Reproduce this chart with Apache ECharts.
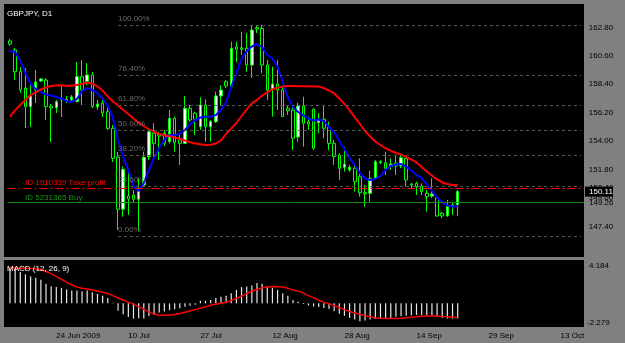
<!DOCTYPE html>
<html><head><meta charset="utf-8">
<script src="https://cdn.jsdelivr.net/npm/echarts@6/dist/echarts.min.js"></script>
<style>html,body{margin:0;padding:0;background:#808080;}#c{width:625px;height:343px;}</style>
</head><body><div id="c"></div>
<script>
const symbolTitle = 'GBPJPY, D1';
const macdTitle = 'MACD (12, 26, 9)';
const slotCount = 112;
// [open, close, low, high]
const candles = [
[161.74,161.51,161.36,161.90],[161.05,159.37,158.73,161.20],[159.37,157.96,157.73,159.73],[158.11,156.67,155.02,159.66],
[156.67,157.50,155.10,158.34],[157.96,158.58,156.95,159.50],[158.65,158.81,158.58,158.88],[158.73,156.67,155.64,158.88],
[156.72,156.57,153.94,156.88],[156.59,157.06,156.18,157.19],[157.34,157.19,155.87,158.34],[157.11,157.26,156.95,157.50],
[157.19,157.42,157.03,157.57],[157.06,158.99,157.03,160.12],[158.99,157.96,156.80,160.27],[158.60,159.12,158.34,160.04],
[159.12,156.67,156.57,159.35],[156.65,156.88,156.41,157.19],[156.95,156.18,155.87,157.19],[156.28,155.00,154.87,156.80],
[155.00,152.68,152.40,155.26],[152.78,148.75,147.15,153.17],[148.75,151.83,148.17,152.04],[149.77,149.54,148.31,151.78],
[149.85,149.52,149.23,150.24],[149.52,150.37,147.02,151.14],[150.62,152.76,150.49,153.19],[152.81,154.74,152.55,155.02],
[154.62,153.84,152.55,155.39],[154.56,154.41,152.55,154.74],[154.62,153.84,153.63,154.87],[153.97,155.77,153.84,156.41],
[155.77,153.89,153.19,155.90],[154.10,153.84,152.17,154.48],[153.84,156.54,153.79,157.50],[156.54,155.64,155.51,156.80],
[156.16,155.70,154.48,156.28],[155.12,156.80,154.87,157.39],[156.80,155.12,153.97,157.24],[155.12,155.51,153.97,155.64],
[155.51,157.50,155.41,157.83],[157.50,157.96,156.80,158.34],[158.60,158.27,158.11,158.73],[158.21,161.18,158.11,161.69],
[161.30,161.10,160.12,161.69],[161.22,161.10,160.66,162.46],[161.18,159.89,159.37,162.36],[159.89,162.59,158.88,162.98],
[162.77,162.67,162.36,162.98],[162.72,159.89,159.25,162.98],[159.89,157.96,157.19,160.27],[158.01,158.42,155.90,159.76],
[158.42,157.96,156.41,160.27],[157.96,155.90,155.90,158.21],[156.54,156.36,156.03,156.80],[156.41,154.23,153.32,156.67],
[154.33,156.72,153.97,156.98],[156.72,155.39,153.58,157.44],[155.51,155.33,154.87,155.90],[156.47,153.46,153.32,156.54],
[155.43,155.64,154.62,156.16],[155.70,155.00,154.23,156.72],[155.08,153.84,153.32,155.51],[153.84,152.81,152.17,154.10],
[152.94,151.91,151.01,153.07],[151.99,152.24,151.65,153.58],[151.78,151.99,151.63,152.17],[151.91,150.88,150.11,152.17],
[151.26,150.03,149.72,152.68],[150.03,149.93,148.95,150.62],[149.98,151.14,149.33,151.73],[151.14,152.42,151.01,152.55],
[152.42,152.34,152.24,152.55],[152.34,151.91,151.39,153.19],[152.04,152.24,151.78,152.68],[152.30,152.09,151.39,152.94],
[152.09,152.73,151.93,152.94],[152.68,151.01,150.49,152.81],[150.70,150.62,150.39,150.78],[150.75,150.49,149.85,150.88],
[150.55,150.11,149.85,150.75],[149.98,149.72,148.56,150.24],[149.77,149.93,149.60,151.14],[149.60,148.23,148.17,149.72],
[148.44,148.23,148.05,148.56],[148.23,149.00,148.17,149.46],[149.08,148.95,148.31,149.33],[149.08,150.11,148.23,150.24]
];
const maFast = [160.97,160.89,160.20,159.27,158.42,158.04,157.80,157.61,157.53,157.42,
157.30,157.11,157.03,157.26,157.88,158.09,157.96,157.70,157.30,156.72,
155.80,154.10,152.78,151.78,150.55,150.16,150.78,151.78,152.71,153.48,
154.10,154.48,154.48,154.56,154.87,155.33,155.64,155.83,155.90,155.90,
156.03,156.41,157.03,158.19,159.27,160.35,160.97,161.32,161.49,161.28,
160.66,160.39,159.73,158.58,157.38,156.65,156.26,155.99,155.76,155.60,
155.68,155.56,155.10,154.72,154.02,153.40,152.71,152.17,151.55,151.12,
151.01,151.09,151.32,151.78,152.09,152.21,152.24,152.04,151.74,151.39,
151.16,150.66,150.16,149.66,149.27,149.04,148.95,149.00];
const maSlow = [155.91,156.38,156.80,157.19,157.57,157.77,158.00,158.15,158.27,158.31,
158.32,158.29,158.29,158.34,158.44,158.54,158.46,158.23,157.92,157.46,
157.07,156.76,156.41,156.11,155.76,155.41,155.18,154.91,154.72,154.56,
154.46,154.38,154.29,154.19,154.06,153.92,153.83,153.77,153.71,153.73,
153.83,154.06,154.56,154.99,155.41,155.95,156.45,156.92,157.19,157.53,
157.77,158.00,158.14,158.23,158.27,158.27,158.25,158.25,158.24,158.23,
158.22,158.11,157.92,157.69,157.30,156.88,156.38,155.87,155.33,154.79,
154.37,153.98,153.71,153.46,153.27,153.09,152.98,152.78,152.59,152.36,
152.01,151.67,151.36,151.05,150.82,150.70,150.62,150.62];
const macdMain = [3.36,3.36,3.03,2.80,2.60,2.48,2.28,1.89,1.66,1.57,
1.47,1.33,1.23,1.23,1.17,1.23,1.08,0.91,0.74,0.52,
0.05,-0.72,-1.05,-1.31,-1.47,-1.44,-1.47,-1.21,-1.05,-0.88,
-0.78,-0.66,-0.56,-0.46,-0.33,-0.23,-0.13,0.26,0.26,0.33,
0.52,0.65,0.74,0.98,1.30,1.57,1.63,1.72,1.96,1.89,
1.63,1.50,1.30,0.98,0.74,0.33,0.15,-0.05,-0.20,-0.30,
-0.35,-0.45,-0.55,-0.75,-1.00,-1.20,-1.40,-1.55,-1.72,-1.65,
-1.55,-1.50,-1.48,-1.46,-1.40,-1.30,-1.25,-1.20,-1.15,-1.12,
-1.12,-1.15,-1.20,-1.30,-1.40,-1.45,-1.48,-1.45];
const macdSignal = [3.45,3.42,3.40,3.38,3.36,3.32,3.26,3.08,2.87,2.60,
2.32,2.05,1.80,1.57,1.45,1.38,1.30,1.20,1.08,0.95,
0.75,0.52,0.32,0.12,-0.07,-0.32,-0.56,-0.82,-1.05,-1.12,
-1.15,-1.14,-1.08,-0.98,-0.85,-0.72,-0.60,-0.46,-0.33,-0.18,
-0.07,0.02,0.10,0.27,0.50,0.70,0.95,1.17,1.33,1.50,
1.58,1.63,1.61,1.57,1.45,1.30,1.18,1.02,0.75,0.55,
0.30,0.12,-0.05,-0.22,-0.40,-0.60,-0.78,-0.92,-1.05,-1.18,
-1.30,-1.40,-1.44,-1.45,-1.45,-1.45,-1.44,-1.38,-1.33,-1.30,
-1.25,-1.21,-1.21,-1.22,-1.27,-1.30,-1.33,-1.36];
const dateTicks = [9,23,37,51,65,79,93,107];
const dateLabels = ['24 Jun 2009','10 Jul','27 Jul','12 Aug','28 Aug','14 Sep','29 Sep','13 Oct'];
const priceTicks = [162.80,160.60,158.40,156.20,154.00,151.80,149.60,147.40];
const fibLevels = ['100.00%','76.40%','61.80%','50.00%','38.20%','23.60%','0.00%'];
const fibPrices = [162.98,159.13,156.75,154.83,152.91,150.53,146.68];
const fibStartSlot = 21;
const takeProfit = 150.40, takeProfitText = 'ID 1910339 Take profit';
const buyPrice = 149.26, buyText = 'ID 5231365 Buy';
const bidPrice = 150.11;
const macdMax = 4.184, macdMin = -2.279;
const priceMin = 145.06, priceMax = 164.60;

const FONT = '"Liberation Sans", Arial, sans-serif';
const slots = Array.from({length: slotCount}, (_, i) => i);
const chart = echarts.init(document.getElementById('c'), null, {renderer: 'canvas', width: 625, height: 343});
const GL = 7.43, GW = 576.3;

const fibLines = fibPrices.map(p => [
  {coord: [fibStartSlot, p], lineStyle: {color: '#555555', type: [3, 3], width: 1}},
  {coord: [slotCount - 1, p]}
]);

const panels = [
  {type: 'rect', shape: {x: 4, y: 4, width: 580, height: 253}, style: {fill: '#000000'}, z: -10, silent: true},
  {type: 'rect', shape: {x: 4, y: 260, width: 580, height: 67}, style: {fill: '#000000'}, z: -10, silent: true}
];

const option = {
  animation: false,
  backgroundColor: '#808080',
  grid: [
    {left: GL, top: 4, width: GW, height: 253, containLabel: false, outerBoundsMode: 'none'},
    {left: GL, top: 260, width: GW, height: 67, containLabel: false, outerBoundsMode: 'none'}
  ],
  xAxis: [
    {type: 'category', gridIndex: 0, data: slots, boundaryGap: true, show: false},
    {type: 'category', gridIndex: 1, data: slots, boundaryGap: true,
      axisLine: {show: false},
      axisTick: {show: true, alignWithLabel: true, interval: (i) => dateTicks.includes(i), length: 3, lineStyle: {color: '#000'}},
      axisLabel: {show: true, interval: (i) => dateTicks.includes(i),
        formatter: (v, i) => { const k = dateTicks.indexOf(i); return k >= 0 ? dateLabels[k] : ''; },
        align: 'left', color: '#000', fontSize: 8, fontFamily: FONT, margin: 5},
      splitLine: {show: false}}
  ],
  yAxis: [
    {type: 'value', gridIndex: 0, position: 'right', min: priceMin, max: priceMax,
      axisLine: {show: false}, axisTick: {show: false}, splitLine: {show: false},
      axisLabel: {customValues: priceTicks, formatter: v => v.toFixed(2), color: '#000', fontSize: 8, fontFamily: FONT, margin: 5}},
    {type: 'value', gridIndex: 1, position: 'right', min: macdMin, max: macdMax,
      axisLine: {show: false}, axisTick: {show: false}, splitLine: {show: false}, axisLabel: {show: false}}
  ],
  series: [
    {type: 'candlestick', xAxisIndex: 0, yAxisIndex: 0, data: candles, barWidth: 3,
      itemStyle: {color: '#ffffff', color0: '#000000', borderColor: '#00ff00', borderColor0: '#00ff00', borderColorDoji: '#00ff00', borderWidth: 1},
      markLine: {silent: true, symbol: ['none', 'none'], animation: false, label: {show: false},
        data: fibLines.concat([
          {yAxis: takeProfit, lineStyle: {color: '#ff0000', type: [8, 3, 2, 3], width: 1}},
          {yAxis: buyPrice, lineStyle: {color: '#0e8c0e', type: 'solid', width: 1}}
        ])}},
    {type: 'line', xAxisIndex: 0, yAxisIndex: 0, data: maFast, symbol: 'none', showSymbol: false, lineStyle: {color: '#0000ff', width: 2}, z: 3},
    {type: 'line', xAxisIndex: 0, yAxisIndex: 0, data: maSlow, symbol: 'none', showSymbol: false, lineStyle: {color: '#ff0000', width: 2}, z: 3},
    {type: 'bar', xAxisIndex: 1, yAxisIndex: 1, data: macdMain, barWidth: 1.2, itemStyle: {color: '#e6e6e6'}},
    {type: 'line', xAxisIndex: 1, yAxisIndex: 1, data: macdSignal, symbol: 'none', showSymbol: false, lineStyle: {color: '#ff0000', width: 1.5}, z: 3}
  ],
  graphic: panels
};
chart.setOption(option);

const yP = p => chart.convertToPixel({yAxisIndex: 0}, p);
const xP = i => chart.convertToPixel({xAxisIndex: 0}, i);
const yM = v => chart.convertToPixel({yAxisIndex: 1}, v);
function txt(text, x, y, fill, extra) {
  return Object.assign({type: 'text', x: x, y: y, z: 50, silent: true,
    style: {text: text, fill: fill, font: '8px ' + FONT, textAlign: 'left', align: 'left', textVerticalAlign: 'middle', verticalAlign: 'middle'}}, extra || {});
}
const overlay = panels.slice();
overlay.push(txt(symbolTitle, 7, 14, '#ffffff'));
overlay.push(txt(macdTitle, 7, 269, '#ffffff'));
fibPrices.forEach((p, k) => overlay.push(txt(fibLevels[k], xP(fibStartSlot), yP(p) - 6.5, '#6a6a6a')));
overlay.push(txt(takeProfitText, 25, yP(takeProfit) - 5.5, '#ff0000'));
overlay.push(txt(buyText, 25, yP(buyPrice) - 5, '#149614'));
overlay.push(txt(takeProfit.toFixed(2), 589, yP(takeProfit), '#000000'));
overlay.push(txt(buyPrice.toFixed(2), 589, yP(buyPrice), '#000000'));
overlay.push({type: 'rect', shape: {x: 585, y: yP(bidPrice) - 5, width: 28, height: 10}, style: {fill: '#000000'}, z: 55, silent: true});
overlay.push(txt(bidPrice.toFixed(2), 589, yP(bidPrice), '#ffffff', {z: 60}));
overlay.push(txt(macdMax.toFixed(3), 589, yM(macdMax) + 5.5, '#000000'));
overlay.push(txt(macdMin.toFixed(3), 587, yM(macdMin) - 4.5, '#000000'));
chart.setOption({graphic: overlay});
</script>
</body></html>
